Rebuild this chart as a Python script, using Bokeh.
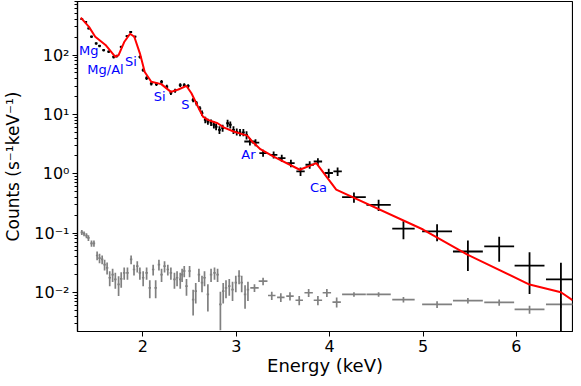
from bokeh.plotting import figure
from bokeh.models import ColumnDataSource, FixedTicker, CustomJSTickFormatter, Range1d
from bokeh.core.properties import value
from bokeh.embed import file_html
from bokeh.resources import INLINE

# ---------------- data ----------------
src_e = [1.346, 1.388, 1.42, 1.45, 1.50, 1.536, 1.58, 1.634, 1.687, 1.72, 1.768, 1.83, 1.87,
         1.916, 1.968, 2.003, 2.04, 2.09, 2.145, 2.20, 2.256, 2.30, 2.345, 2.40, 2.443, 2.485,
         2.538, 2.573, 2.61, 2.633, 2.668, 2.696, 2.73, 2.76, 2.784, 2.82, 2.854, 2.907, 2.936,
         2.97, 3.005, 3.04, 3.076, 3.11, 3.146, 3.206, 3.287, 3.40, 3.487, 3.585, 3.688, 3.786,
         3.874, 3.99, 4.085, 4.26, 4.524, 4.79, 5.15, 5.48, 5.815, 6.14, 6.476]
src_y = [403, 363, 281, 204, 157, 143, 121, 114, 93, 96, 138, 209, 245,
         204, 93, 56, 41, 33, 32.5, 35.5, 29.3, 23.2, 25.1, 31.3, 31.3, 30.2,
         17.5, 15.5, 12.6, 10.5, 8.1, 7.6, 7.3, 6.7, 6.2, 5.5, 5.9, 7.1, 6.7,
         5.5, 5.1, 5.0, 5.0, 4.5, 3.5, 3.36, 2.23, 2.09, 1.84, 1.51, 1.10, 1.42,
         1.61, 1.03, 1.10, 0.405, 0.30, 0.119, 0.107, 0.049, 0.060, 0.0284, 0.0166]
src_xerr = [0.015] * 44 + [0.06, 0.04, 0.04, 0.04, 0.04, 0.04, 0.045, 0.045, 0.045, 0.045, 0.045,
                           0.127, 0.13, 0.12, 0.16, 0.16, 0.16, 0.16, 0.16]
src_yerr = [14, 13, 11, 9, 8, 7, 6, 6, 5, 5, 6, 8, 9,
            8, 5, 3.5, 2.8, 2.4, 2.4, 2.5, 2.2, 1.9, 2.0, 2.2, 2.2, 2.2,
            1.5, 1.4, 1.2, 1.1, 1.0, 0.9, 0.9, 0.9, 0.8, 0.8, 0.8, 1.0, 0.9,
            0.8, 0.7, 0.7, 0.7, 0.7, 0.5, 0.45, 0.3, 0.28, 0.25, 0.22, 0.18, 0.2,
            0.22, 0.18, 0.18, 0.08, 0.065, 0.04, 0.034, 0.026, 0.027, 0.019, 0.015]

bkg_e = [1.346, 1.37, 1.396, 1.417, 1.45, 1.476, 1.51, 1.536, 1.564, 1.59, 1.617, 1.645, 1.676,
         1.705, 1.74, 1.768, 1.80, 1.835, 1.874, 1.905, 1.94, 1.968, 2.003, 2.04, 2.074, 2.11,
         2.137, 2.172, 2.20, 2.232, 2.267, 2.30, 2.338, 2.366, 2.40, 2.42, 2.443, 2.467, 2.50,
         2.538, 2.566, 2.60, 2.633, 2.66, 2.696, 2.73, 2.767, 2.80, 2.83, 2.86, 2.89, 2.925,
         2.96, 2.995, 3.03, 3.058, 3.094, 3.125, 3.195, 3.287, 3.38, 3.477, 3.575, 3.674, 3.775,
         3.874, 3.97, 4.075, 4.26, 4.524, 4.79, 5.15, 5.48, 5.815, 6.14, 6.476]
bkg_y = [0.103, 0.098, 0.091, 0.083, 0.067, 0.067, 0.042, 0.038, 0.036, 0.0295, 0.026, 0.0177, 0.020,
         0.0166, 0.0137, 0.017, 0.0214, 0.0214, 0.036, 0.0244, 0.0277, 0.0214, 0.0177, 0.0214, 0.012, 0.0244,
         0.012, 0.0295, 0.020, 0.0277, 0.0244, 0.0214, 0.0166, 0.0177, 0.0166, 0.020, 0.023, 0.0128, 0.023,
         0.0076, 0.0105, 0.020, 0.0146, 0.0177, 0.0093, 0.020, 0.0214, 0.020, 0.0063, 0.0105, 0.012, 0.0128,
         0.0112, 0.0146, 0.0188, 0.0146, 0.0093, 0.0112, 0.012, 0.0155, 0.0089, 0.0083, 0.0087, 0.0074, 0.0099,
         0.0074, 0.0099, 0.0069, 0.0093, 0.0093, 0.0076, 0.0063, 0.0073, 0.0068, 0.0052, 0.0063]
bkg_xerr = [0.013] * 58 + [0.045, 0.047, 0.04, 0.04, 0.04, 0.04, 0.045, 0.045, 0.045, 0.045,
                           0.127, 0.13, 0.12, 0.16, 0.16, 0.16, 0.16, 0.16]
bkg_yerr = [0.010, 0.009, 0.009, 0.009, 0.008, 0.008, 0.007, 0.007, 0.006, 0.006, 0.006, 0.005, 0.005,
            0.005, 0.005, 0.005, 0.005, 0.005, 0.006, 0.005, 0.006, 0.005, 0.005, 0.005, 0.004, 0.005,
            0.004, 0.006, 0.005, 0.006, 0.005, 0.005, 0.005, 0.005, 0.005, 0.005, 0.005, 0.004, 0.005,
            0.0035, 0.004, 0.005, 0.0045, 0.005, 0.0045, 0.005, 0.005, 0.005, 0.004, 0.004, 0.004, 0.004,
            0.004, 0.0045, 0.005, 0.0045, 0.004, 0.004, 0.0018, 0.0022, 0.0014, 0.0014, 0.0014, 0.0013, 0.0015,
            0.0013, 0.0015, 0.0013, 0.0008, 0.0008, 0.0008, 0.0008, 0.0008, 0.0008, 0.0008, 0.0008]

model_e = [1.335, 1.423, 1.49, 1.60, 1.705, 1.74, 1.80, 1.863, 1.908, 1.968, 2.02, 2.09, 2.197,
           2.30, 2.38, 2.467, 2.52, 2.59, 2.643, 2.696, 2.80, 2.87, 2.978, 3.118, 3.17, 3.258,
           3.40, 3.68, 3.857, 4.07, 5.0, 5.47, 6.14, 6.476, 6.6]
model_y = [427, 299, 204, 148, 93, 100, 166, 229, 204, 107, 52, 35.5, 32.4,
           24, 26.3, 30.2, 22.7, 13.5, 9.2, 8.1, 7.1, 6.0, 5.1, 4.4, 3.5, 2.6,
           1.95, 1.17, 1.51, 0.54, 0.115, 0.0437, 0.0136, 0.0101, 0.0074]

line_names = ["Mg", "Mg/Al", "Si", "Si", "S", "Ar", "Ca"]
line_e = [1.42, 1.60, 1.873, 2.18, 2.454, 3.13, 3.88]
line_y = [121, 58, 79, 19.7, 14.5, 2.09, 0.58]

y_ticks = [0.01, 0.1, 1, 10, 100]
y_minor = [m * d for d in [0.001, 0.01, 0.1, 1, 10, 100] for m in range(2, 10)]
x_ticks = [2, 3, 4, 5, 6]

FONT = "DejaVu Sans"

# ---------------- figure ----------------
p = figure(width=573, height=378, output_backend="svg", toolbar_location=None,
           y_axis_type="log",
           x_range=Range1d(1.3, 6.6), y_range=Range1d(0.0022, 800),
           min_border_left=77, min_border_right=1, min_border_top=1, min_border_bottom=46)
p.grid.visible = False
p.outline_line_color = "black"
p.outline_line_width = 1.2
p.background_fill_color = "white"
p.border_fill_color = "white"


def err_sources(e, y, xe, ye):
    xs = ColumnDataSource(dict(x0=[a - b for a, b in zip(e, xe)], x1=[a + b for a, b in zip(e, xe)], y=y))
    ys = ColumnDataSource(dict(x=e, y0=[max(a - b, 1e-5) for a, b in zip(y, ye)],
                               y1=[a + b for a, b in zip(y, ye)]))
    return xs, ys


bx, by = err_sources(bkg_e, bkg_y, bkg_xerr, bkg_yerr)
p.segment(x0="x0", x1="x1", y0="y", y1="y", source=bx, line_color="#808080", line_width=1.7)
p.segment(x0="x", x1="x", y0="y0", y1="y1", source=by, line_color="#808080", line_width=1.7)

sx, sy = err_sources(src_e, src_y, src_xerr, src_yerr)
p.segment(x0="x0", x1="x1", y0="y", y1="y", source=sx, line_color="black", line_width=1.8)
p.segment(x0="x", x1="x", y0="y0", y1="y1", source=sy, line_color="black", line_width=1.8)

p.line(model_e, model_y, line_color="#ff0000", line_width=2)

p.text(x=line_e, y=line_y, text=line_names, text_color="#0000ff",
       text_font=value(FONT), text_font_size="13px",
       text_align="center", text_baseline="middle")

# ---------------- axes ----------------
p.xaxis.ticker = FixedTicker(ticks=x_ticks)
p.yaxis.ticker = FixedTicker(ticks=y_ticks, minor_ticks=y_minor)
p.yaxis.formatter = CustomJSTickFormatter(code="""
const e = Math.round(Math.log10(tick));
const m = {"-": "\\u207b", "0": "\\u2070", "1": "\\u00b9", "2": "\\u00b2", "3": "\\u00b3"};
return "10" + String(e).split("").map(c => m[c]).join("");
""")
p.xaxis.minor_tick_line_color = None

for ax in (p.xaxis[0], p.yaxis[0]):
    ax.axis_line_color = "black"
    ax.axis_line_width = 1.2
    ax.major_tick_in = 0
    ax.major_tick_out = 5
    ax.minor_tick_in = 0
    ax.minor_tick_out = 3
    ax.major_label_text_font = FONT
    ax.major_label_text_font_size = "16px"
    ax.major_label_text_color = "black"
    ax.axis_label_text_font = FONT
    ax.axis_label_text_font_style = "normal"
    ax.axis_label_text_color = "black"

p.xaxis.axis_label = "Energy (keV)"
p.xaxis.axis_label_text_font_size = "18px"
p.xaxis.major_label_standoff = 3
p.xaxis.axis_label_standoff = 0
p.yaxis.axis_label = "Counts (s\u207b\u00b9keV\u207b\u00b9)"
p.yaxis.axis_label_text_font_size = "17px"
p.yaxis.major_label_standoff = 3
p.yaxis.axis_label_standoff = 8

open("out.html", "w").write(file_html(p, INLINE))
